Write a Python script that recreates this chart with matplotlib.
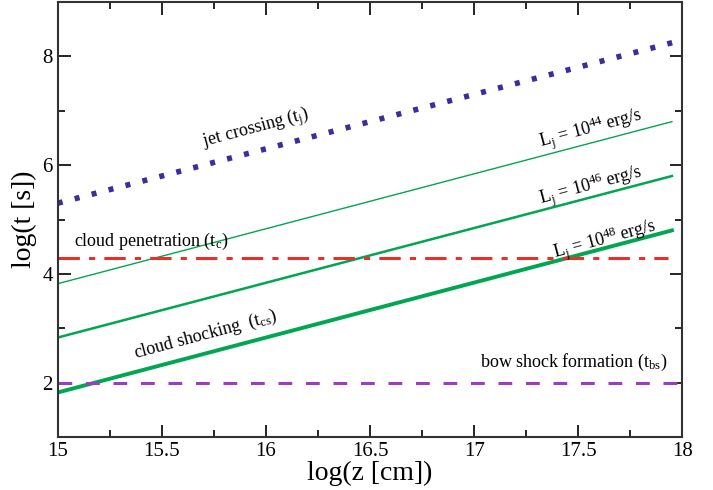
import numpy as np
import matplotlib.pyplot as plt

plt.rcParams['font.family'] = ['Liberation Serif', 'DejaVu Serif']
plt.rcParams['mathtext.fontset'] = 'custom'
plt.rcParams['mathtext.rm'] = 'Liberation Serif'
plt.rcParams['mathtext.it'] = 'Liberation Serif:italic'

# data (log z, log t)
jet_x = [15.0, 18.0]
jet_y = [5.3, 8.3]
l44_x = [15.0, 17.95]
l44_y = [3.82, 6.8]
l46_x = [15.0, 17.95]
l46_y = [2.83, 5.8]
l48_x = [15.0, 17.95]
l48_y = [1.82, 4.8]
pen_x = [15.0, 17.93]
pen_y = [4.3, 4.3]
bow_x = [15.0, 18.0]
bow_y = [2.0, 2.0]

green = '#00a651'

fig = plt.figure(figsize=(7.13, 4.9), dpi=100)
ax = fig.add_axes([0.081, 0.108, 0.876, 0.888])

ax.plot(jet_x, jet_y, color='#3a2d9c', lw=4, linestyle=(0, (0.9, 2.25)))
ax.plot(l44_x, l44_y, color=green, lw=1.0)
ax.plot(l46_x, l46_y, color=green, lw=1.8)
ax.plot(l48_x, l48_y, color=green, lw=2.8)
ax.plot(pen_x, pen_y, color='#e8302a', lw=2.2, linestyle=(0, (7, 3, 2, 3)))
ax.plot(bow_x, bow_y, color='#9a3dbf', lw=2.2, linestyle=(0, (4.5, 4.5)))

fs = 13
ax.text(15.95, 6.67, r'jet crossing (t$_\mathrm{j}$)', rotation=15, ha='center', va='center', fontsize=fs)
ax.text(17.56, 6.67, r'L$_\mathrm{j}$ = 10$^{44}$ erg/s', rotation=15, ha='center', va='center', fontsize=fs)
ax.text(17.56, 5.62, r'L$_\mathrm{j}$ = 10$^{46}$ erg/s', rotation=15, ha='center', va='center', fontsize=fs)
ax.text(17.63, 4.62, r'L$_\mathrm{j}$ = 10$^{48}$ erg/s', rotation=15, ha='center', va='center', fontsize=fs)
ax.text(15.08, 4.6, r'cloud penetration (t$_\mathrm{c}$)', ha='left', va='center', fontsize=fs)
ax.text(15.71, 2.88, r'cloud shocking  (t$_\mathrm{cs}$)', rotation=15, ha='center', va='center', fontsize=fs)
ax.text(17.93, 2.38, r'bow shock formation (t$_\mathrm{bs}$)', ha='right', va='center', fontsize=fs)

ax.set_xlim(15, 18)
ax.set_ylim(1, 9)
ax.set_xticks(np.arange(15, 18.01, 0.5))
ax.set_xticklabels(['15', '15.5', '16', '16.5', '17', '17.5', '18'])
ax.set_xticks(np.arange(15.25, 18, 0.5), minor=True)
ax.set_yticks([2, 4, 6, 8])
ax.set_yticks([3, 5, 7], minor=True)
ax.tick_params(which='both', direction='in', top=True, right=True, labelsize=15, width=1.2)
ax.tick_params(which='major', length=9)
ax.tick_params(which='minor', length=5)
for s in ax.spines.values():
    s.set_linewidth(1.5)
    s.set_color('#333333')

ax.set_xlabel('log(z [cm])', fontsize=20, labelpad=0)
ax.set_ylabel('log(t [s])', fontsize=20, labelpad=4)

fig.savefig('out.png', dpi=100)
